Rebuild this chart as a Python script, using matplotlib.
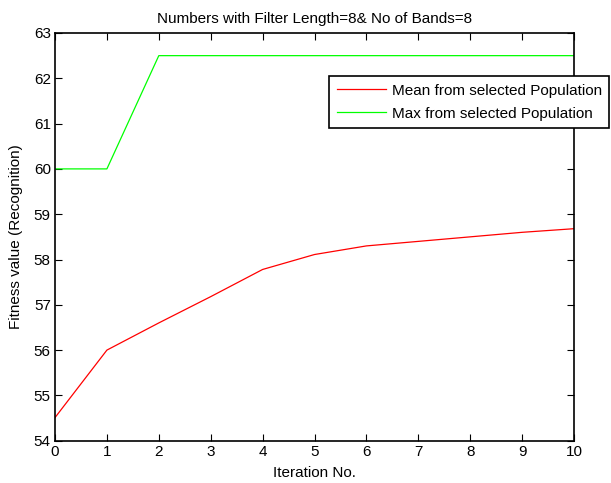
import matplotlib
matplotlib.use("Agg")
import matplotlib.pyplot as plt

plt.rcParams['font.family'] = ['Liberation Sans', 'DejaVu Sans']

iterations = [0, 1, 2, 3, 4, 5, 6, 7, 8, 9, 10]
mean_fitness = [54.51, 56.0, 56.6, 57.18, 57.78, 58.11, 58.3, 58.4, 58.5, 58.6, 58.68]
max_fitness = [60.0, 60.0, 62.5, 62.5, 62.5, 62.5, 62.5, 62.5, 62.5, 62.5, 62.5]
x_ticks = list(range(0, 11))
y_ticks = list(range(54, 64))

fig = plt.figure(figsize=(6.11, 4.83), dpi=100)
ax = fig.add_axes([55/611, 1 - 440.7/483, (574-55)/611, (440.7-33)/483])

ax.plot(iterations, mean_fitness, color='#ff0000', lw=0.9, label='Mean from selected Population')
ax.plot(iterations, max_fitness, color='#00ff00', lw=0.9, label='Max from selected Population')

ax.set_xlim(0, 10)
ax.set_ylim(54, 63)
ax.set_xticks(x_ticks)
ax.set_yticks(y_ticks)
ax.tick_params(direction='in', top=True, right=True, length=5, width=0.8, labelsize=11, pad=3)
for s in ax.spines.values():
    s.set_linewidth(1.2)

ax.set_title('Numbers with Filter Length=8& No of Bands=8', fontsize=11, pad=7)
ax.set_xlabel('Iteration No.', fontsize=11, labelpad=5)
ax.set_ylabel('Fitness value (Recognition)', fontsize=11, labelpad=8)

leg = ax.legend(loc='upper left', bbox_to_anchor=(329/611, 1 - 76/483),
                bbox_transform=fig.transFigure, fontsize=11, fancybox=False,
                framealpha=1, edgecolor='black', handlelength=3.2, handletextpad=0.4,
                borderpad=0.5, labelspacing=0.6, borderaxespad=0)
leg.get_frame().set_linewidth(1.2)

fig.savefig('out.png', dpi=100)
